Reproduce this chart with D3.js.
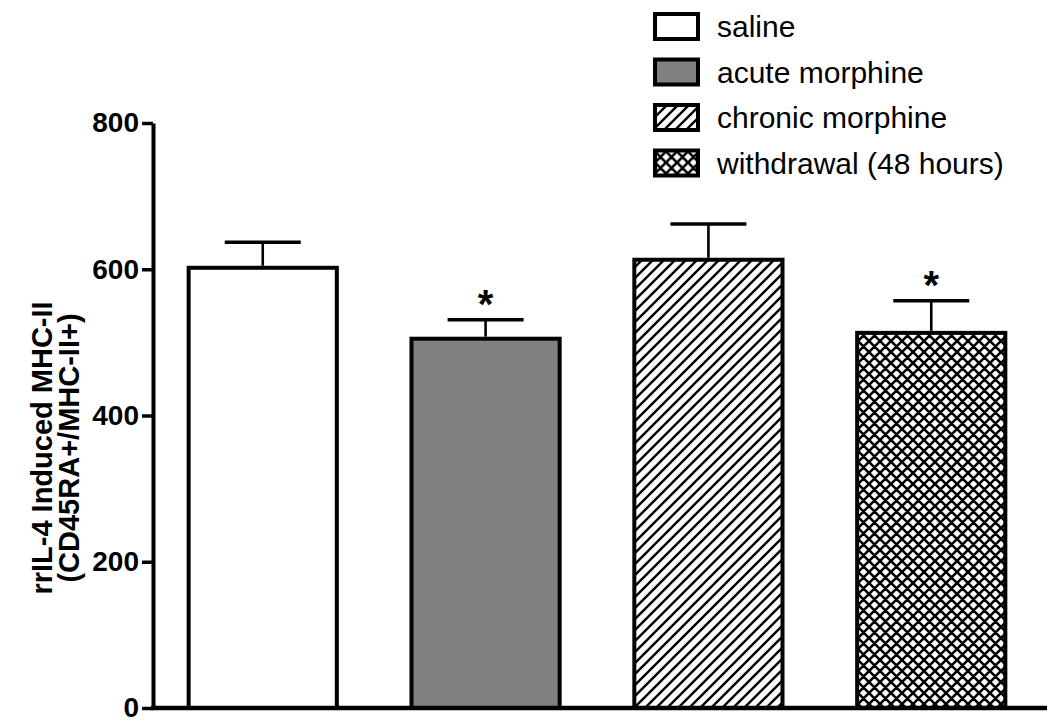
<!DOCTYPE html>
<html>
<head>
<meta charset="utf-8">
<script src="https://cdn.jsdelivr.net/npm/d3@7"></script>
<style>
  body { margin: 0; background: #fff; }
  text { font-family: "Liberation Sans", Arial, sans-serif; }
</style>
</head>
<body>
<div id="chart"></div>
<script>
// data
var groups = ["saline", "acute morphine", "chronic morphine", "withdrawal (48 hours)"];
var means = [602, 505, 613, 513];
var sems = [35, 26, 49, 44];
var signif = [false, true, false, true];
var fills = ["#ffffff", "#808080", "url(#stripes)", "url(#cross)"];
var yTicks = [0, 200, 400, 600, 800];

var w = 1050, h = 724;
var svg = d3.select("#chart").append("svg").attr("width", w).attr("height", h);

// patterns
var defs = svg.append("defs");
var st = defs.append("pattern").attr("id", "stripes").attr("patternUnits", "userSpaceOnUse")
	.attr("width", 11).attr("height", 11);
st.append("rect").attr("width", 11).attr("height", 11).attr("fill", "#fff");
st.append("path").attr("d", "M-2,2 L2,-2 M0,11 L11,0 M9,13 L13,9")
	.attr("stroke", "#000").attr("stroke-width", 2.4);

var cr = defs.append("pattern").attr("id", "cross").attr("patternUnits", "userSpaceOnUse")
	.attr("width", 11).attr("height", 11);
cr.append("rect").attr("width", 11).attr("height", 11).attr("fill", "#fff");
cr.append("path").attr("d", "M-2,2 L2,-2 M0,11 L11,0 M9,13 L13,9 M-2,9 L2,13 M0,0 L11,11 M9,-2 L13,2")
	.attr("stroke", "#000").attr("stroke-width", 2.6);

var y = d3.scaleLinear().domain([0, 800]).range([708, 123]);
var x = d3.scaleBand().domain(groups).range([153, 1041]).paddingInner(0.335).paddingOuter(0.16);

// y axis
var yAxis = svg.append("g").attr("transform", "translate(153,0)")
	.call(d3.axisLeft(y).tickValues(yTicks).tickSize(11).tickPadding(3).tickSizeOuter(0));
yAxis.select(".domain").attr("stroke-width", 4);
yAxis.selectAll(".tick line").attr("stroke-width", 3.5);
yAxis.selectAll(".tick text").attr("font-size", 28).attr("font-weight", "bold")
	.attr("font-family", "Liberation Sans, Arial, sans-serif").attr("fill", "#000");

// bars
var bars = svg.selectAll("rect.bar").data(groups).enter().append("rect").attr("class", "bar")
	.attr("x", function(d) {
		return x(d);
	}).attr("y", function(d, i) {
		return y(means[i]);
	}).attr("width", x.bandwidth()).attr("height", function(d, i) {
		return y(0) - y(means[i]);
	}).attr("fill", function(d, i) {
		return fills[i];
	}).attr("stroke", "#000").attr("stroke-width", 4);

// error bars (upper only)
var capW = 76;
groups.forEach(function(g, i) {
	var cx = x(g) + x.bandwidth() / 2;
	svg.append("line").attr("x1", cx).attr("x2", cx)
		.attr("y1", y(means[i]) - 2).attr("y2", y(means[i] + sems[i]))
		.attr("stroke", "#000").attr("stroke-width", 2.6);
	svg.append("line").attr("x1", cx - capW / 2).attr("x2", cx + capW / 2)
		.attr("y1", y(means[i] + sems[i])).attr("y2", y(means[i] + sems[i]))
		.attr("stroke", "#000").attr("stroke-width", 3.5);
	if (signif[i]) {
		svg.append("text").attr("x", cx).attr("y", y(means[i] + sems[i]) - 2)
			.attr("text-anchor", "middle").attr("font-size", 40).attr("font-weight", "bold")
			.text("*");
	}
});

// x axis line
svg.append("line").attr("x1", 151).attr("x2", 1047).attr("y1", 708).attr("y2", 708)
	.attr("stroke", "#000").attr("stroke-width", 4.5);

// y axis title
var title = svg.append("text").attr("transform", "translate(52,448) rotate(-90)")
	.attr("text-anchor", "middle").attr("font-size", 29).attr("font-weight", "bold");
title.append("tspan").attr("x", 0).attr("dy", 0).text("rrIL-4 Induced MHC-II");
title.append("tspan").attr("x", 0).attr("dy", 27).text("(CD45RA+/MHC-II+)");

// legend
var leg = svg.selectAll("g.leg").data(groups).enter().append("g").attr("class", "leg")
	.attr("transform", function(d, i) {
		return "translate(655," + (26 + i * 45.5) + ")";
	});
leg.append("rect").attr("x", 0).attr("y", -12).attr("width", 43).attr("height", 25)
	.attr("fill", function(d, i) {
		return fills[i];
	}).attr("stroke", "#000").attr("stroke-width", 4);
leg.append("text").attr("x", 62).attr("y", 11).attr("font-size", 30).text(function(d) {
	return d;
});
</script>
</body>
</html>
